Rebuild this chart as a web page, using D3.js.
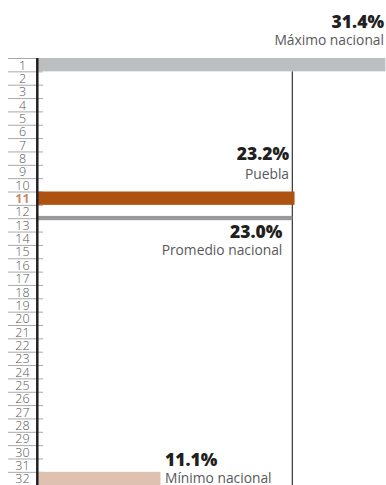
<!DOCTYPE html>
<html>
<head>
<meta charset="utf-8">
<script src="https://cdn.jsdelivr.net/npm/d3@7"></script>
<style>
  html, body { margin: 0; padding: 0; background: #fff; }
  svg { display: block; font-family: "Open Sans", "Noto Sans", sans-serif; }
</style>
</head>
<body>
<div id="chart"></div>
<script>
// Ranking positions shown on the left axis
const ranks = d3.range(1, 33);
const rankLabels = ranks.map(String);

// Highlighted entries: rank, value (%), name
const markRanks = [1, 11, 32];
const markValues = [31.4, 23.2, 11.1];
const markNames = ["Máximo nacional", "Puebla", "Mínimo nacional"];
const markColors = ["#bcbec0", "#ad5210", "#dfc1b1"];

// National average
const avgValue = 23.0;
const avgName = "Promedio nacional";
const highlightRank = 11;

const width = 386, height = 485;

const svg = d3.select("#chart").append("svg")
  .attr("width", width).attr("height", height);

const y = d3.scaleBand()
  .domain(ranks)
  .range([58, 58 + 32 * 13.35])
  .padding(0);

const x = d3.scaleLinear()
  .domain([0, 31.4])
  .range([37.5, 385.4]);

// Row separators and rank numbers
const rows = svg.append("g");
rows.selectAll("line")
  .data(ranks)
  .join("line")
  .attr("x1", 8).attr("x2", 43)
  .attr("y1", d => y(d) + 0.5).attr("y2", d => y(d) + 0.5)
  .attr("stroke", "#a7a9ac").attr("stroke-width", 1);

rows.selectAll("text")
  .data(ranks)
  .join("text")
  .attr("x", 22.5)
  .attr("y", d => y(d) + y.bandwidth() - 1.8)
  .attr("text-anchor", "middle")
  .attr("font-size", 12.5)
  .attr("font-weight", d => d === highlightRank ? 700 : 300)
  .attr("fill", d => d === highlightRank ? "#c98a6e" : "#555")
  .text((d, i) => rankLabels[i]);

// Reference line at the national average
svg.append("line")
  .attr("x1", x(avgValue)).attr("x2", x(avgValue))
  .attr("y1", y(1) + y.bandwidth()).attr("y2", height)
  .attr("stroke", "#333").attr("stroke-width", 1.2);

// Highlighted bars
const marks = markRanks.map((r, i) => ({ rank: r, value: markValues[i], name: markNames[i], color: markColors[i] }));
svg.append("g").selectAll("rect")
  .data(marks)
  .join("rect")
  .attr("x", x(0))
  .attr("y", d => y(d.rank))
  .attr("width", d => x(d.value) - x(0))
  .attr("height", y.bandwidth())
  .attr("fill", d => d.color);

// Average bar sitting on the boundary between ranks 12 and 13
svg.append("rect")
  .attr("x", x(0))
  .attr("y", y(13) - 2.3)
  .attr("width", x(avgValue) - x(0))
  .attr("height", 4.3)
  .attr("fill", "#999a9d");

// Vertical axis
svg.append("line")
  .attr("x1", 37.3).attr("x2", 37.3)
  .attr("y1", y(1)).attr("y2", height)
  .attr("stroke", "#231f20").attr("stroke-width", 2.5);

// Value and name labels
const fmt = v => v.toFixed(1) + "%";
function label(xPos, yVal, yName, anchor, value, name) {
  const g = svg.append("g").attr("text-anchor", anchor);
  g.append("text")
    .attr("x", xPos).attr("y", yVal)
    .attr("font-size", 17.5).attr("font-weight", 800)
    .attr("fill", "#231f20")
    .text(fmt(value));
  g.append("text")
    .attr("x", xPos).attr("y", yName)
    .attr("font-size", 13.8).attr("font-weight", 400)
    .attr("fill", "#58595b")
    .text(name);
}

label(384, 28, 45, "end", markValues[0], markNames[0]);
label(x(markValues[1]) - 5.5, y(markRanks[1]) - 32, y(markRanks[1]) - 12.5, "end", markValues[1], markNames[1]);
label(x(avgValue) - 10, y(13) + 20, y(13) + 37, "end", avgValue, avgName);
label(x(markValues[2]) + 4.5, y(markRanks[2]) - 6, y(markRanks[2]) + 11.5, "start", markValues[2], markNames[2]);
</script>
</body>
</html>
